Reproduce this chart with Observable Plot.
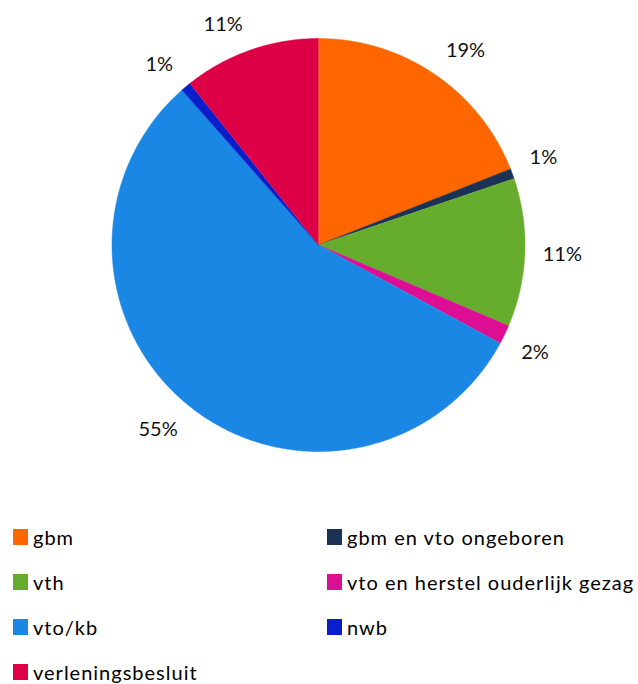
<!DOCTYPE html>
<html><head><meta charset="utf-8">
<script src="https://cdn.jsdelivr.net/npm/d3@7"></script>
<script src="https://cdn.jsdelivr.net/npm/@observablehq/plot@0.6"></script>
<style>
body{margin:0;background:#fff;font-family:Lato, "Open Sans", sans-serif;}
#legend{position:relative;width:638px;height:179px;}
.item{position:absolute;display:flex;align-items:center;font-size:20px;letter-spacing:1px;color:#000;white-space:nowrap;height:20px;}
.sw{width:15px;height:16px;margin-right:5px;flex:none;}
</style></head><body><div id="chart"></div><div id="legend"></div>
<script>
const categories = ["gbm","gbm en vto ongeboren","vth","vto en herstel ouderlijk gezag","vto/kb","nwb","verleningsbesluit"];
const values = [19.0, 0.8, 11.6, 1.5, 55.6, 0.8, 10.7];
const labels = ["19%","1%","11%","2%","55%","1%","11%"];
const colors = ["#FF6600","#1C3255","#67AD2D","#DB0E94","#1B87E5","#0A1ECB","#DE0046"];

const W = 638, H = 505, R = 206.5, CX = 318, CY = 244.5;
const total = d3.sum(values);
const pts = [], labs = [];
let acc = 0;
const clamp = v => Math.max(-1, Math.min(1, v));
categories.forEach((key, i) => {
  const a0 = acc / total * 2 * Math.PI;
  acc += values[i];
  const a1 = acc / total * 2 * Math.PI;
  pts.push({key, x: 0, y: 0});
  const n = Math.max(2, Math.ceil((a1 - a0) / (Math.PI / 360)));
  for (let k = 0; k <= n; k++) {
    const t = a0 + (a1 - a0) * k / n;
    pts.push({key, x: Math.sin(t), y: Math.cos(t)});
  }
  const m = (a0 + a1) / 2, s = Math.sin(m), c = Math.cos(m);
  const r = 1 + 15 / R;
  const w = labels[i].length * 11 + 4, h = 22;
  labs.push({
    text: labels[i],
    x: s * r + clamp(3 * s) * (w / 2 + 4) / R,
    y: c * r + clamp(3 * c) * (h / 2) / R
  });
});

const chart = Plot.plot({
  width: W, height: H, margin: 0,
  style: {fontFamily: "Lato, 'Open Sans', sans-serif", background: "#fff"},
  x: {domain: [-1, 1], range: [CX - R, CX + R], axis: null},
  y: {domain: [-1, 1], range: [CY + R, CY - R], axis: null},
  color: {domain: categories, range: colors},
  marks: [
    Plot.line(pts, {x: "x", y: "y", z: "key", fill: "key", stroke: "key", strokeWidth: 0.5, curve: "linear"}),
    Plot.text(labs, {x: "x", y: "y", text: "text", fontSize: 20, fill: "#111"})
  ]
});
document.getElementById("chart").appendChild(chart);

const legend = document.getElementById("legend");
categories.forEach((c, i) => {
  const col = i % 2, row = Math.floor(i / 2);
  const el = document.createElement("div");
  el.className = "item";
  el.style.left = (col ? 327 : 13) + "px";
  el.style.top = (22 + row * 45) + "px";
  el.innerHTML = `<span class="sw" style="background:${colors[i]}"></span><span>${c}</span>`;
  legend.appendChild(el);
});
</script></body></html>
